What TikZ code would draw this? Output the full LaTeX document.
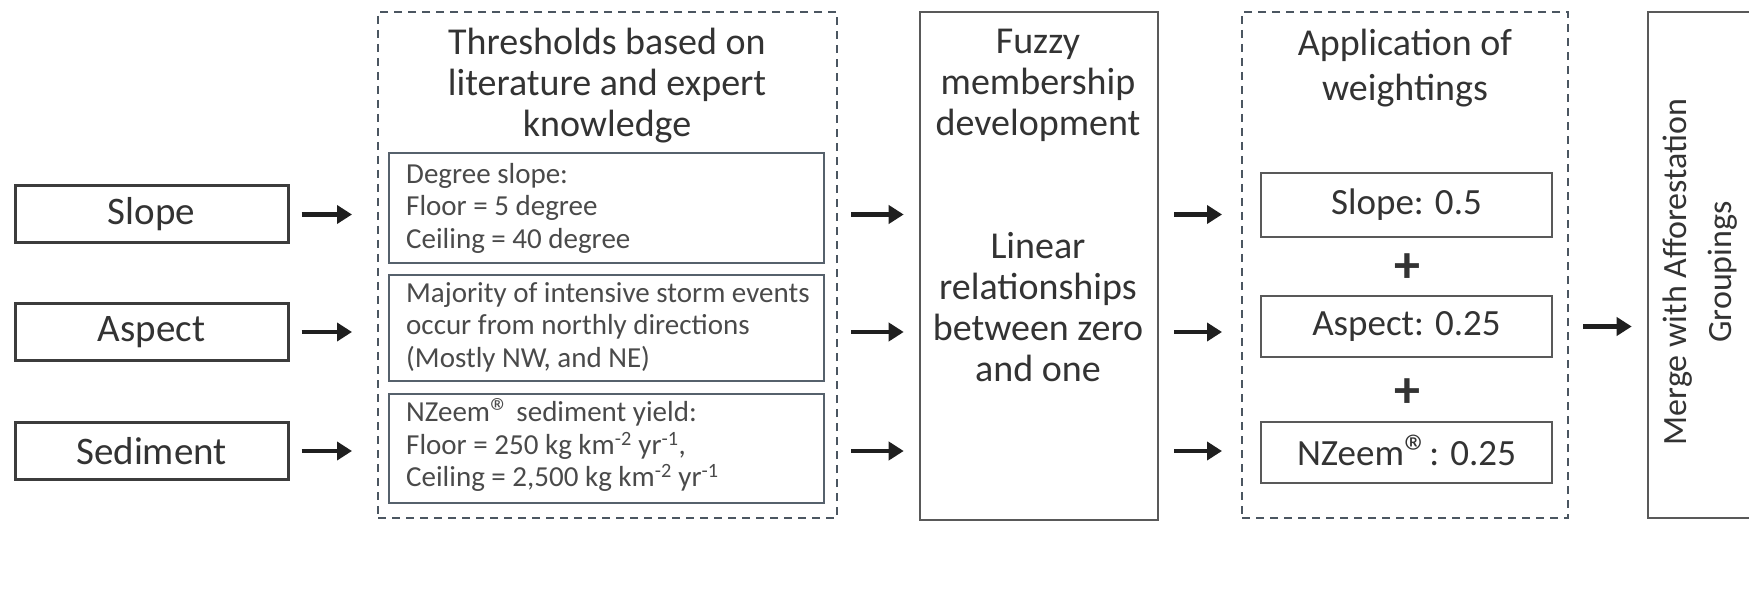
\documentclass[tikz,border=0pt]{standalone}
\usepackage{fontspec}
\setmainfont{Carlito}
\usetikzlibrary{arrows.meta}
\definecolor{txt}{HTML}{333333}
\definecolor{txtlight}{HTML}{4A4A4A}
\definecolor{boxgray}{HTML}{3C3C3C}
\definecolor{bluegray}{HTML}{56616C}
\definecolor{dashgray}{HTML}{4B5661}
\newcommand\regmark{\raisebox{-0.12em}{\scalebox{1.35}{\textregistered}}}
\begin{document}
\begin{tikzpicture}[x=1pt,y=-1pt,
  inbox/.style={draw=boxgray, line width=3pt, rectangle, inner sep=0pt,
    minimum width=273pt, minimum height=57pt, text=txt,
    font=\fontsize{39}{41}\selectfont},
  thrbox/.style={draw=bluegray, line width=2.6pt, rectangle, inner sep=0pt,
    minimum width=435pt},
  thrtext/.style={anchor=west, align=left, inner sep=0pt, text=txtlight,
    font=\fontsize{29}{32.5}\selectfont},
  dashbox/.style={draw=dashgray, line width=2pt, dash pattern=on 8pt off 6pt,
    rectangle, inner sep=0pt},
  bigbox/.style={draw=boxgray!85, line width=2.6pt, rectangle, inner sep=0pt},
  title/.style={align=center, inner sep=0pt, text=txt,
    font=\fontsize{38}{41}\selectfont},
  wbox/.style={draw=boxgray!85, line width=2.6pt, rectangle, inner sep=0pt,
    minimum width=291pt, text=txt, font=\fontsize{37}{40}\selectfont},
  plus/.style={inner sep=0pt, text=txt, font=\fontsize{52}{52}\selectfont\bfseries},
  flow/.style={draw=black!88, line width=4.5pt, -{Triangle[length=15pt,width=18pt]}}
]
\useasboundingbox (0,0) rectangle (1749,596);

% inputs
\node[inbox] (slope) at (151.5,214.5) {Slope};
\node[inbox] (aspect) at (151.5,332) {Aspect};
\node[inbox] (sed) at (151.5,451) {Sediment};

% thresholds group
\node[dashbox, minimum width=459pt, minimum height=506pt] (thr) at (607.5,265) {};
\node[title] (thrtitle) at (607,86) {Thresholds based on\\literature and expert\\knowledge};
\node[thrbox, minimum height=110pt] (t1) at (606.5,208) {};
\node[thrbox, minimum height=106pt] (t2) at (606.5,328) {};
\node[thrbox, minimum height=109pt] (t3) at (606.5,448.5) {};
\node[thrtext] (t1txt) at (406,208) {Degree slope:\\Floor = 5 degree\\Ceiling = 40 degree};
\node[thrtext] (t2txt) at (406,327) {Majority of intensive storm events\\occur from northly directions\\(Mostly NW, and NE)};
\node[thrtext] (t3txt) at (406,445) {NZeem\regmark{} sediment yield:\\Floor = 250 kg km\textsuperscript{-2} yr\textsuperscript{-1},\\Ceiling = 2,500 kg km\textsuperscript{-2} yr\textsuperscript{-1}};

% fuzzy
\node[bigbox, minimum width=238pt, minimum height=508pt] (fuzzy) at (1039,266) {};
\node[title] (fuzzytop) at (1038,85) {Fuzzy\\membership\\development};
\node[title] (fuzzylin) at (1038,307) {Linear\\relationships\\between zero\\and one};

% weightings group
\node[dashbox, minimum width=326pt, minimum height=506pt] (wgt) at (1405,265) {};
\node[title, font=\fontsize{38}{45}\selectfont] (wtitle) at (1405,68) {Application of\\weightings};
\node[wbox, minimum height=64pt] (w1) at (1406.5,205) {Slope: 0.5};
\node[wbox, minimum height=61pt] (w2) at (1406.5,326.5) {Aspect: 0.25};
\node[wbox, minimum height=61pt] (w3) at (1406.5,452.5) {NZeem\regmark: 0.25};
\node[plus] (p1) at (1407,268) {+};
\node[plus] (p2) at (1407,393) {+};

% merge
\node[bigbox, minimum width=104pt, minimum height=506pt] (merge) at (1700,265) {};
\node[title, rotate=90, font=\fontsize{34}{45}\selectfont] (mergetxt) at (1700,272) {Merge with Afforestation\\Groupings};

% connectors
\foreach \s in {slope,aspect,sed}{
  \draw[flow, shorten <=12pt, shorten >=25pt] (\s.east) -- (\s.east -| thr.west);
}
\draw[flow, shorten <=13pt, shorten >=15pt] (thr.east |- slope) -- (fuzzy.west |- slope);
\draw[flow, shorten <=13pt, shorten >=15pt] (thr.east |- aspect) -- (fuzzy.west |- aspect);
\draw[flow, shorten <=13pt, shorten >=15pt] (thr.east |- sed) -- (fuzzy.west |- sed);
\draw[flow, shorten <=15pt, shorten >=19pt] (fuzzy.east |- slope) -- (wgt.west |- slope);
\draw[flow, shorten <=15pt, shorten >=19pt] (fuzzy.east |- aspect) -- (wgt.west |- aspect);
\draw[flow, shorten <=15pt, shorten >=19pt] (fuzzy.east |- sed) -- (wgt.west |- sed);
\draw[flow, shorten <=14pt, shorten >=15pt] (wgt.east |- w2) -- (merge.west |- w2);
\end{tikzpicture}
\end{document}
